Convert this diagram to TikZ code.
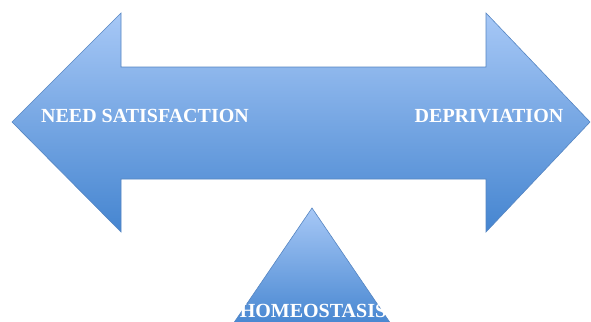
\documentclass[tikz,border=0pt]{standalone}
\usepackage{fontspec}
\setmainfont{Liberation Serif}
\definecolor{topblue}{HTML}{A7C8F6}
\definecolor{botblue}{HTML}{4585D0}
\definecolor{edgeblue}{HTML}{5585C2}
\tikzset{
  shapefill/.style={top color=topblue, bottom color=botblue, draw=edgeblue, line width=0.6pt, line join=miter},
  label/.style={text=white, font=\fontsize{20}{20}\selectfont\bfseries, inner sep=0pt}
}
\begin{document}
\begin{tikzpicture}[x=1pt,y=-1pt]
\useasboundingbox (0,0) rectangle (591,321);
% double arrow
\path[shapefill] (12,122) -- (121,13) -- (121,67) -- (486,67) -- (486,13) -- (590,122)
  -- (486,232) -- (486,179) -- (121,179) -- (121,232) -- cycle;
% triangle
\path[shapefill] (312,208) -- (393,327) -- (231,327) -- cycle;
\node[label] (need) at (145,116) {NEED SATISFACTION};
\node[label] (dep) at (489,116) {DEPRIVIATION};
\node[label] (homeo) at (313,311) {HOMEOSTASIS};
\end{tikzpicture}
\end{document}
